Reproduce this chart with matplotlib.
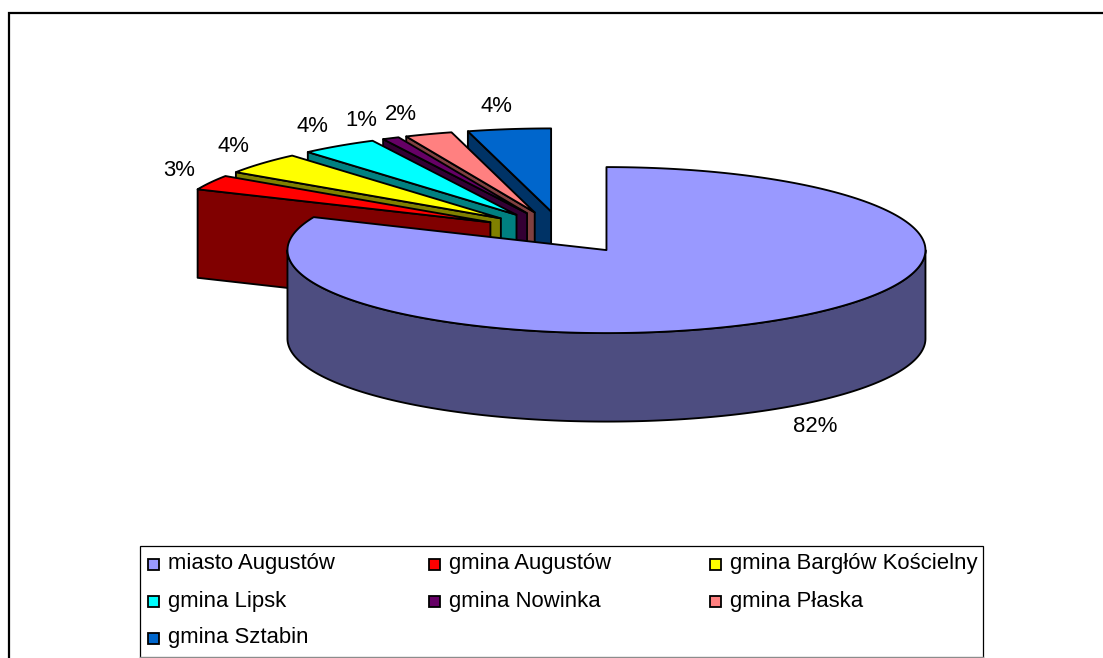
import numpy as np
import matplotlib
matplotlib.use("Agg")
import matplotlib.pyplot as plt
from matplotlib.patches import Polygon, Rectangle

categories = ["miasto Augustów", "gmina Augustów", "gmina Bargłów Kościelny",
              "gmina Lipsk", "gmina Nowinka", "gmina Płaska", "gmina Sztabin"]
shares = [81.5, 2.9, 4.25, 3.9, 0.85, 2.4, 4.2]
top_colors = ["#9999FF", "#FF0000", "#FFFF00", "#00FFFF", "#660066", "#FF8080", "#0066CC"]
side_colors = ["#4D4D80", "#800000", "#808000", "#008080", "#330033", "#804040", "#003366"]

# layout (pixels)
W, H = 1103, 658
CX, CY = 561.8, 232.4
RX, RY = 319.0, 83.0
DEPTH = 88.5
EXPLODE = 0.255
label_xy = [(815, 427), (179, 171), (233, 147), (312, 126), (361, 120), (401, 114), (496, 107)]
legend_box = (139.5, 546, 983, 657)
legend_cols = [148, 429, 710]
legend_rows = [564, 601, 638]
FONT = 15.9

plt.rcParams["font.family"] = ["Liberation Sans", "DejaVu Sans"]
fig = plt.figure(figsize=(W / 100, H / 100), dpi=100)
ax = fig.add_axes([0, 0, 1, 1])
ax.set_xlim(0, W)
ax.set_ylim(H, 0)
ax.axis("off")

LW = 1.35
fr = np.array(shares) / sum(shares)
edges = np.concatenate([[0], np.cumsum(fr)]) * 2 * np.pi


def pt(ox, oy, a):
    return np.column_stack([ox + RX * np.sin(a), oy - RY * np.cos(a)])


def apex(a0, a1):
    m = (a0 + a1) / 2
    return CX + EXPLODE * RX * np.sin(m), CY - EXPLODE * RY * np.cos(m)


# back slices are drawn from the far one to the near one, the large slice last
for i in list(range(len(shares) - 1, -1, -1)):
    a0, a1 = edges[i], edges[i + 1]
    ox, oy = apex(a0, a1)
    arc_a = np.linspace(a0, a1, 240)
    arc = pt(ox, oy, arc_a)
    z = 2 + (len(shares) - i)
    if i == 0:
        # front rim of the big slice: from rightmost, round the bottom, to leftmost
        rim_a = np.linspace(np.pi / 2, 3 * np.pi / 2, 300)
        rim = pt(ox, oy, rim_a)
        ax.add_patch(Polygon(np.vstack([rim, (rim + [0, DEPTH])[::-1]]), closed=True,
                             fc=side_colors[i], ec="black", lw=LW, zorder=z, joinstyle="round"))
    else:
        p = arc[0]
        side = [(ox, oy), tuple(p), (p[0], p[1] + DEPTH), (ox, oy + DEPTH)]
        ax.add_patch(Polygon(side, closed=True, fc=side_colors[i], ec="black", lw=LW,
                             zorder=z, joinstyle="round"))
    ax.add_patch(Polygon(np.vstack([[ox, oy], arc]), closed=True, fc=top_colors[i],
                         ec="black", lw=LW, zorder=z + 0.5, joinstyle="round"))

for v, (x, y) in zip(shares, label_xy):
    ax.text(x, y, f"{v:.0f}%", fontsize=FONT, color="black", ha="center", va="center", zorder=20)

# chart frame: only the left and top edges fall inside the picture
ax.plot([8.5, 8.5, W], [H, 12.5, 12.5], color="black", lw=1.6, solid_joinstyle="miter", zorder=1)

# legend
x0, y0, x1, y1 = legend_box
ax.plot([x0, x0, x1, x1], [y1, y0, y0, y1], color="black", lw=0.9, zorder=21, solid_joinstyle="miter")
ax.plot([x0, x1], [y1, y1], color="#8c8c8c", lw=1.0, zorder=21)
for k, name in enumerate(categories):
    r, c = divmod(k, 3)
    mx, my = legend_cols[c], legend_rows[r]
    ax.add_patch(Rectangle((mx, my - 5.5), 11, 11, fc=top_colors[k], ec="black", lw=1.3, zorder=22))
    ax.text(mx + 20, my, name, fontsize=FONT, va="center", ha="left", color="black", zorder=22)

fig.savefig("out.png", dpi=100)
